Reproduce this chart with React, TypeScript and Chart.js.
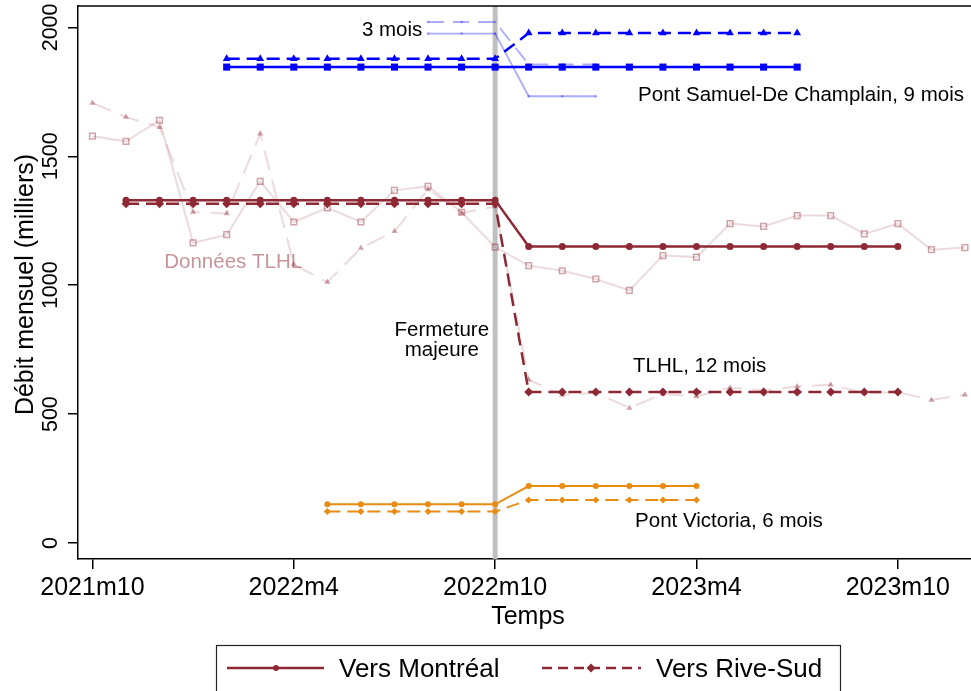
import React, { useEffect, useRef } from 'react';
import { Chart, registerables } from 'chart.js';

Chart.register(...registerables);

// ---- data (month index 0 = 2021m10 ... 26 = 2023m12) ----
const xTickValues = [0, 6, 12, 18, 24];
const xTickLabels = ['2021m10', '2022m4', '2022m10', '2023m4', '2023m10'];
const yTickValues = [0, 500, 1000, 1500, 2000];
const closureMonth = 12;

const _ = null;
// TLHL observed data (faded)
const tlhlObsMtl = [1578, 1558, 1640, 1164, 1196, 1403, 1245, 1300, 1245, 1368, 1384, 1283, 1148, 1076, 1056, 1024, 980, 1115, 1109, 1239, 1228, 1270, 1270, 1199, 1239, 1138, 1146];
const tlhlObsRs = [1707, 1652, 1613, 1284, 1278, 1587, 1080, 1012, 1144, 1209, 1371, 1280, 1305, 633, 575, 582, 524, 578, 568, 602, 592, 607, 614, 582, 585, 555, 575];
// TLHL, 12 mois
const tlhlFitMtl = [_, 1330, 1330, 1330, 1330, 1330, 1330, 1330, 1330, 1330, 1330, 1330, 1330, 1150, 1150, 1150, 1150, 1150, 1150, 1150, 1150, 1150, 1150, 1150, 1150, _, _];
const tlhlFitRs = [_, 1316, 1316, 1316, 1316, 1316, 1316, 1316, 1316, 1316, 1316, 1316, 1316, 586, 586, 586, 586, 586, 586, 586, 586, 586, 586, 586, 586, _, _];
// Pont Samuel-De Champlain, 9 mois
const champFitMtl = [_, _, _, _, 1846, 1846, 1846, 1846, 1846, 1846, 1846, 1846, 1846, 1846, 1846, 1846, 1846, 1846, 1846, 1846, 1846, 1846, _, _, _, _, _];
const champFitRs = [_, _, _, _, 1878, 1878, 1878, 1878, 1878, 1878, 1878, 1878, 1878, 1978, 1978, 1978, 1978, 1978, 1978, 1978, 1978, 1978, _, _, _, _, _];
// Pont Samuel-De Champlain, 3 mois (faded)
const champ3Mtl = [_, _, _, _, _, _, _, _, _, _, 1976, 1976, 1976, 1733, 1733, 1733, _, _, _, _, _, _, _, _, _, _, _];
const champ3Rs = [_, _, _, _, _, _, _, _, _, _, 2021, 2021, 2021, 1856, 1856, 1856, _, _, _, _, _, _, _, _, _, _, _];
// Pont Victoria, 6 mois
const victFitMtl = [_, _, _, _, _, _, _, 150, 150, 150, 150, 150, 150, 221, 221, 221, 221, 221, 221, _, _, _, _, _, _, _, _];
const victFitRs = [_, _, _, _, _, _, _, 122, 122, 122, 122, 122, 122, 167, 167, 167, 167, 167, 167, _, _, _, _, _, _, _, _];

const legendLabels = ['Vers Montréal', 'Vers Rive-Sud'];

// ---- styles ----
const FONT = 'Liberation Sans';
const RED = 'rgb(142,40,52)';
const RED_FADE_LINE = 'rgba(142,40,52,0.17)';
const RED_FADE_MARK = 'rgba(142,40,52,0.42)';
const BLUE = 'rgb(0,0,255)';
const BLUE_FADE = 'rgba(0,0,255,0.33)';
const ORANGE = 'rgb(232,140,20)';
const TLHL_LABEL = 'rgba(142,40,52,0.5)';

const toPts = (arr: (number | null)[]) =>
  arr.map((v, i) => (v == null ? null : { x: i, y: v })).filter((p) => p !== null) as { x: number; y: number }[];

const DASH = [13, 7];

const annotations = [
  { text: '3 mois', x: 9.83, y: 1965, align: 'right', color: '#000' },
  { text: 'Pont Samuel-De Champlain, 9 mois', x: 16.26, y: 1716, align: 'left', color: '#000' },
  { text: 'Données TLHL', x: 2.14, y: 1068, align: 'left', color: TLHL_LABEL },
  { text: 'Fermeture', x: 10.41, y: 802, align: 'center', color: '#000' },
  { text: 'majeure', x: 10.41, y: 726, align: 'center', color: '#000' },
  { text: 'TLHL, 12 mois', x: 16.11, y: 664, align: 'left', color: '#000' },
  { text: 'Pont Victoria, 6 mois', x: 16.17, y: 62, align: 'left', color: '#000' },
];

const drawPlugin = {
  id: 'stataDecor',
  beforeDatasetsDraw(chart: any) {
    const { ctx, chartArea, scales } = chart;
    const x = scales.x.getPixelForValue(closureMonth);
    ctx.save();
    ctx.strokeStyle = 'rgb(192,192,192)';
    ctx.lineWidth = 5;
    ctx.beginPath();
    ctx.moveTo(x, chartArea.top);
    ctx.lineTo(x, chartArea.bottom);
    ctx.stroke();
    ctx.restore();
  },
  afterDraw(chart: any) {
    const { ctx, chartArea, scales } = chart;
    ctx.save();
    // top frame line
    ctx.strokeStyle = '#000';
    ctx.lineWidth = 1.5;
    ctx.beginPath();
    ctx.moveTo(chartArea.left, chartArea.top);
    ctx.lineTo(chartArea.right, chartArea.top);
    ctx.stroke();

    ctx.fillStyle = '#000';
    // y tick labels (rotated)
    ctx.font = `21.5px "${FONT}"`;
    ctx.textAlign = 'center';
    ctx.textBaseline = 'alphabetic';
    scales.y.ticks.forEach((t: any) => {
      const py = scales.y.getPixelForValue(t.value);
      ctx.save();
      ctx.translate(57, py);
      ctx.rotate(-Math.PI / 2);
      ctx.fillText(String(t.value), 0, 0);
      ctx.restore();
    });
    // x tick labels
    ctx.font = `25px "${FONT}"`;
    scales.x.ticks.forEach((t: any) => {
      const px = scales.x.getPixelForValue(t.value);
      const idx = xTickValues.indexOf(t.value);
      ctx.fillText(xTickLabels[idx], px, 595);
    });
    // axis titles
    ctx.font = `25px "${FONT}"`;
    ctx.fillText('Temps', 528, 624);
    ctx.save();
    ctx.translate(33, (chartArea.top + chartArea.bottom) / 2 + 2);
    ctx.rotate(-Math.PI / 2);
    ctx.fillText('Débit mensuel (milliers)', 0, 0);
    ctx.restore();

    // annotations
    ctx.font = `20.5px "${FONT}"`;
    annotations.forEach((a) => {
      ctx.fillStyle = a.color;
      ctx.textAlign = a.align as CanvasTextAlign;
      ctx.fillText(a.text, scales.x.getPixelForValue(a.x), scales.y.getPixelForValue(a.y));
    });

    // legend
    ctx.strokeStyle = '#222';
    ctx.lineWidth = 1.2;
    ctx.strokeRect(216.5, 645.5, 624, 52);
    const ly = 668;
    ctx.strokeStyle = RED;
    ctx.fillStyle = RED;
    ctx.lineWidth = 2.5;
    ctx.setLineDash([]);
    ctx.beginPath();
    ctx.moveTo(227, ly);
    ctx.lineTo(324, ly);
    ctx.stroke();
    ctx.beginPath();
    ctx.arc(276, ly, 3, 0, Math.PI * 2);
    ctx.fill();
    ctx.setLineDash([10, 6]);
    ctx.beginPath();
    ctx.moveTo(542, ly);
    ctx.lineTo(641, ly);
    ctx.stroke();
    ctx.setLineDash([]);
    ctx.beginPath();
    ctx.moveTo(591, ly - 4.5);
    ctx.lineTo(595.5, ly);
    ctx.lineTo(591, ly + 4.5);
    ctx.lineTo(586.5, ly);
    ctx.closePath();
    ctx.fill();
    ctx.fillStyle = '#000';
    ctx.font = `26px "${FONT}"`;
    ctx.textAlign = 'left';
    ctx.fillText(legendLabels[0], 339, 677);
    ctx.fillText(legendLabels[1], 656, 677);
    ctx.restore();
  },
};

export default function App() {
  const ref = useRef<HTMLCanvasElement>(null);
  useEffect(() => {
    if (!ref.current) return;
    Chart.defaults.font.family = FONT;
    const tickAxis = (extra: any) => ({
      grid: { drawOnChartArea: false, drawTicks: true, tickLength: 10, color: '#000', tickColor: '#000', lineWidth: 1.5, tickWidth: 1.5 },
      border: { display: true, color: '#000', width: 1.5 },
      ticks: { color: 'rgba(0,0,0,0)', autoSkip: false, maxRotation: 0, padding: 0, font: { size: 1 } },
      ...extra,
    });
    const chart = new Chart(ref.current, {
      type: 'line',
      data: {
        datasets: [
          // main series (lower order = drawn on top)
          { data: toPts(tlhlFitMtl), borderColor: RED, backgroundColor: RED, borderWidth: 2.5, pointStyle: 'circle', pointRadius: 3.5, pointBorderWidth: 0, order: 1 },
          { data: toPts(tlhlFitRs), borderColor: RED, backgroundColor: RED, borderWidth: 2.5, borderDash: DASH, pointStyle: 'rectRot', pointRadius: 4.5, pointBorderWidth: 0, order: 2 },
          { data: toPts(champFitMtl), borderColor: BLUE, backgroundColor: BLUE, borderWidth: 2.5, pointStyle: 'rect', pointRadius: 5, pointBorderWidth: 0, order: 3 },
          { data: toPts(champFitRs), borderColor: BLUE, backgroundColor: BLUE, borderWidth: 2.5, borderDash: DASH, pointStyle: 'triangle', pointRadius: 4.5, pointBorderWidth: 0, order: 4 },
          { data: toPts(victFitMtl), borderColor: ORANGE, backgroundColor: ORANGE, borderWidth: 2, pointStyle: 'circle', pointRadius: 3, pointBorderWidth: 0, order: 5 },
          { data: toPts(victFitRs), borderColor: ORANGE, backgroundColor: ORANGE, borderWidth: 2, borderDash: DASH, pointStyle: 'rectRot', pointRadius: 3.5, pointBorderWidth: 0, order: 6 },
          // faded series
          { data: toPts(champ3Mtl), borderColor: BLUE_FADE, backgroundColor: BLUE_FADE, borderWidth: 1.8, pointStyle: 'circle', pointRadius: 1.3, pointBorderWidth: 0, order: 7 },
          { data: toPts(champ3Rs), borderColor: BLUE_FADE, backgroundColor: BLUE_FADE, borderWidth: 1.8, borderDash: [16, 9], pointStyle: 'circle', pointRadius: 1.3, pointBorderWidth: 0, order: 8 },
          { data: toPts(tlhlObsMtl), borderColor: RED_FADE_LINE, backgroundColor: 'rgba(255,255,255,0)', pointBorderColor: RED_FADE_MARK, borderWidth: 2, pointStyle: 'rect', pointRadius: 4, pointBorderWidth: 1.5, order: 9 },
          { data: toPts(tlhlObsRs), borderColor: RED_FADE_LINE, backgroundColor: RED_FADE_MARK, pointBorderColor: RED_FADE_MARK, borderWidth: 2, borderDash: [20, 10], pointStyle: 'triangle', pointRadius: 3.5, pointBorderWidth: 0, order: 10 },
        ],
      },
      options: {
        responsive: false,
        animation: false,
        devicePixelRatio: 1,
        layout: { autoPadding: false, padding: { top: 6, left: 0, right: 0, bottom: 0 } },
        plugins: { legend: { display: false }, tooltip: { enabled: false } },
        elements: { line: { tension: 0, fill: false } },
        scales: {
          x: tickAxis({
            type: 'linear',
            min: -0.43,
            max: 26.18,
            afterBuildTicks: (s: any) => { s.ticks = xTickValues.map((v) => ({ value: v })); },
            afterFit: (s: any) => { s.height = 132; s.paddingLeft = 0; s.paddingRight = 0; },
          }),
          y: tickAxis({
            type: 'linear',
            min: -62,
            max: 2083,
            afterBuildTicks: (s: any) => { s.ticks = yTickValues.map((v) => ({ value: v })); },
            afterFit: (s: any) => { s.width = 78; s.paddingTop = 0; s.paddingBottom = 0; },
          }),
        },
      },
      plugins: [drawPlugin],
    } as any);
    return () => chart.destroy();
  }, []);
  return (
    <div style={{ position: 'absolute', left: 0, top: 0, width: 971, height: 691, background: '#fff' }}>
      <canvas ref={ref} width={971} height={691} style={{ width: 971, height: 691, display: 'block' }} />
    </div>
  );
}
